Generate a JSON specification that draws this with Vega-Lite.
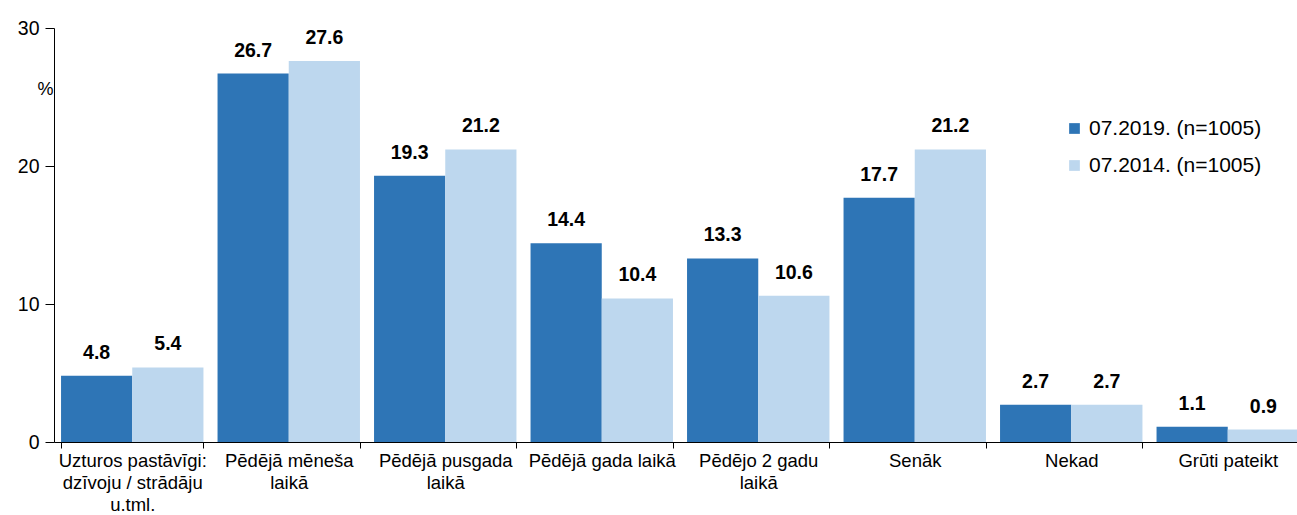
{
  "$schema": "https://vega.github.io/schema/vega-lite/v6.json",
  "autosize": {"type": "none"},
  "padding": {"left": 54, "top": 28, "right": 0, "bottom": 73},
  "width": 1243,
  "height": 414,
  "background": "white",
  "config": {
    "font": "Liberation Sans",
    "view": {"stroke": null},
    "axis": {"labelColor": "black", "domainColor": "black", "tickColor": "black", "grid": false}
  },
  "data": {
    "values": [
      {"cat": "Uzturos pastāvīgi:|dzīvoju / strādāju|u.tml.", "series": "07.2019. (n=1005)", "value": 4.8},
      {"cat": "Uzturos pastāvīgi:|dzīvoju / strādāju|u.tml.", "series": "07.2014. (n=1005)", "value": 5.4},
      {"cat": "Pēdējā mēneša|laikā", "series": "07.2019. (n=1005)", "value": 26.7},
      {"cat": "Pēdējā mēneša|laikā", "series": "07.2014. (n=1005)", "value": 27.6},
      {"cat": "Pēdējā pusgada|laikā", "series": "07.2019. (n=1005)", "value": 19.3},
      {"cat": "Pēdējā pusgada|laikā", "series": "07.2014. (n=1005)", "value": 21.2},
      {"cat": "Pēdējā gada laikā", "series": "07.2019. (n=1005)", "value": 14.4},
      {"cat": "Pēdējā gada laikā", "series": "07.2014. (n=1005)", "value": 10.4},
      {"cat": "Pēdējo 2 gadu|laikā", "series": "07.2019. (n=1005)", "value": 13.3},
      {"cat": "Pēdējo 2 gadu|laikā", "series": "07.2014. (n=1005)", "value": 10.6},
      {"cat": "Senāk", "series": "07.2019. (n=1005)", "value": 17.7},
      {"cat": "Senāk", "series": "07.2014. (n=1005)", "value": 21.2},
      {"cat": "Nekad", "series": "07.2019. (n=1005)", "value": 2.7},
      {"cat": "Nekad", "series": "07.2014. (n=1005)", "value": 2.7},
      {"cat": "Grūti pateikt", "series": "07.2019. (n=1005)", "value": 1.1},
      {"cat": "Grūti pateikt", "series": "07.2014. (n=1005)", "value": 0.9}
    ]
  },
  "encoding": {
    "x": {
      "field": "cat", "type": "nominal", "sort": null,
      "scale": {"paddingInner": 0.09, "paddingOuter": 0.045, "range": [0, 1252]},
      "axis": {
        "title": null, "labelAngle": 0, "labelExpr": "split(datum.label, '|')",
        "labelFontSize": 18.5, "labelLineHeight": 22, "labelPadding": 3,
        "tickBand": "extent", "tickSize": 6, "labelBaseline": "top"
      }
    },
    "xOffset": {"field": "series", "type": "nominal", "sort": ["07.2019. (n=1005)", "07.2014. (n=1005)"]},
    "y": {
      "field": "value", "type": "quantitative",
      "scale": {"domain": [0, 30], "nice": false},
      "axis": {
        "values": [0, 10, 20, 30], "labelFontSize": 19.5, "tickSize": 9, "labelPadding": 6,
        "title": "%", "titleAngle": 0, "titleFontSize": 18, "titleFontWeight": "normal",
        "titleX": -9, "titleY": 70
      }
    }
  },
  "layer": [
    {
      "mark": {"type": "bar"},
      "encoding": {
        "color": {
          "field": "series", "type": "nominal",
          "sort": ["07.2019. (n=1005)", "07.2014. (n=1005)"],
          "scale": {"range": ["#2E75B6", "#BDD7EE"]},
          "legend": {
            "title": null, "orient": "none", "legendX": 1010, "legendY": 90,
            "symbolType": "square", "symbolSize": 115, "symbolStrokeWidth": 0,
            "labelFontSize": 21, "labelColor": "black", "labelLimit": 400,
            "rowPadding": 15, "labelOffset": 4
          }
        }
      }
    },
    {
      "mark": {"type": "text", "baseline": "bottom", "dy": -13, "fontSize": 19.5, "fontWeight": "bold", "color": "black"},
      "encoding": {"text": {"field": "value", "type": "quantitative", "format": ".1f"}}
    }
  ]
}
